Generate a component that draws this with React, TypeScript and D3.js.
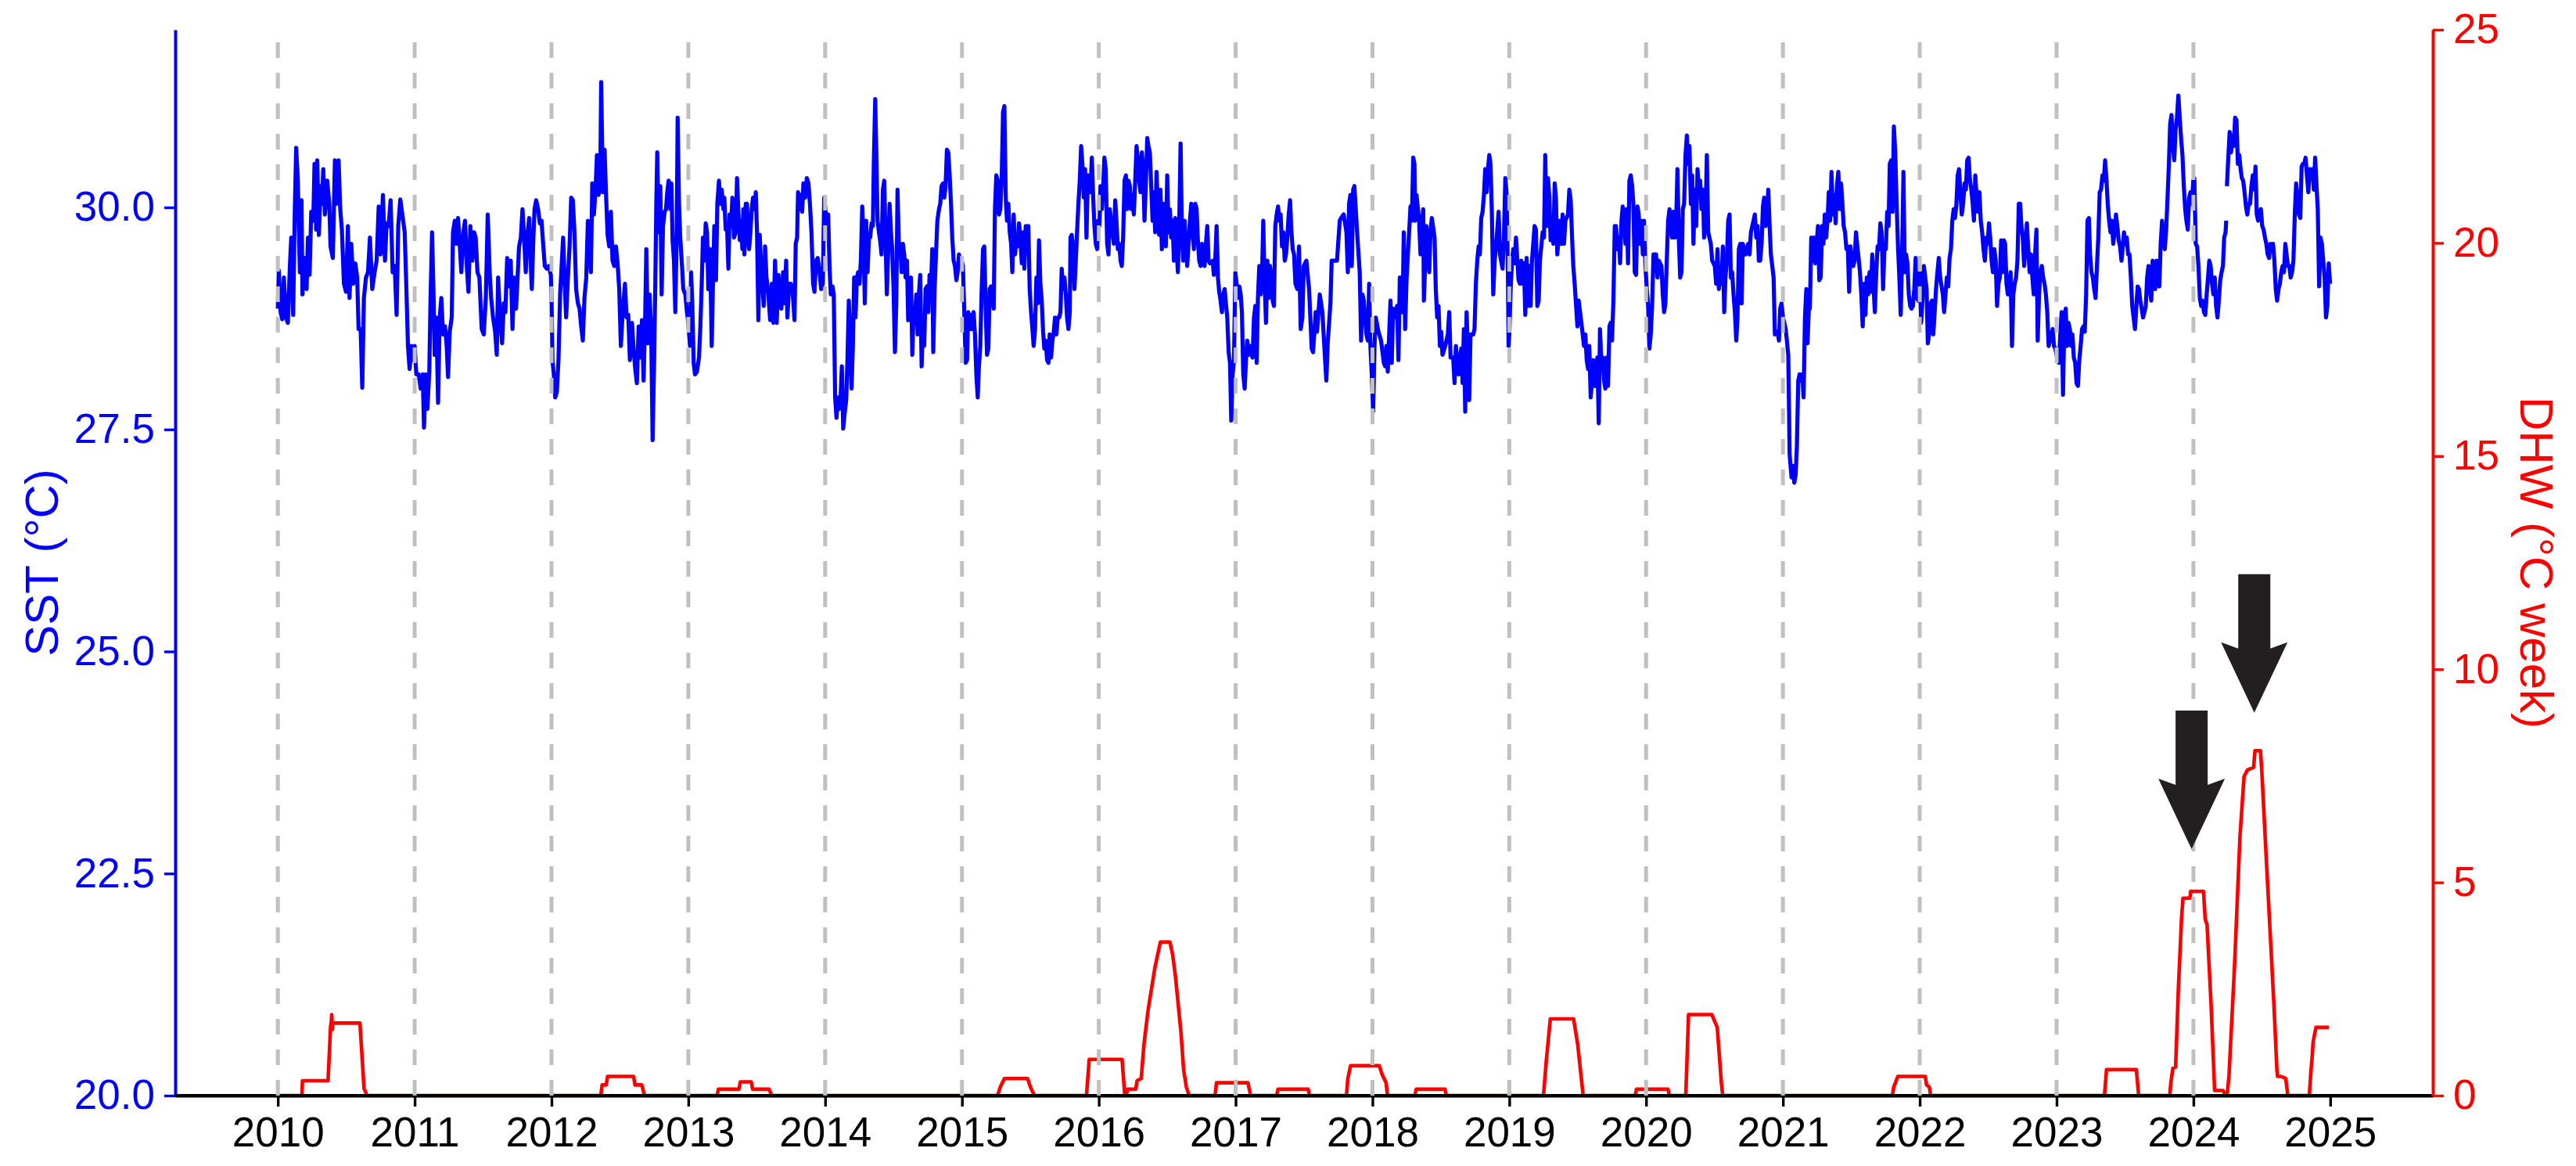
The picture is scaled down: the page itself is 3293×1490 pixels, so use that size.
import React, { useEffect, useRef } from "react";
import * as d3 from "d3";

// tick labels and reference lines
const xTickYears = [2010, 2011, 2012, 2013, 2014, 2015, 2016, 2017, 2018, 2019, 2020, 2021, 2022, 2023, 2024, 2025];
const gridYears = [2010, 2011, 2012, 2013, 2014, 2015, 2016, 2017, 2018, 2019, 2020, 2021, 2022, 2023, 2024];
const sstTicks = [20, 22.5, 25, 27.5, 30];
const dhwTicks = [0, 5, 10, 15, 20, 25];

// SST (°C): [fraction of year, value]
const sst2010 = [[0.000,28.86],[0.007,29.29],[0.020,28.82],[0.032,28.74],[0.044,29.21],[0.059,28.76],[0.073,28.70],[0.088,29.34],[0.098,29.66],[0.112,28.79],[0.124,29.98],[0.134,30.67],[0.146,30.30],[0.161,29.27],[0.173,30.08],[0.180,29.02],[0.195,29.43],[0.210,29.08],[0.220,29.66],[0.232,29.24],[0.244,29.95],[0.259,29.85],[0.268,30.49],[0.280,29.75],[0.288,30.53],[0.300,29.69],[0.312,30.24],[0.322,30.04],[0.332,30.43],[0.344,29.92],[0.361,30.30],[0.376,30.04],[0.385,29.56],[0.402,29.43],[0.417,30.53],[0.429,30.04],[0.444,30.53],[0.456,29.98],[0.468,29.75],[0.483,29.14],[0.498,29.05],[0.512,29.79],[0.524,28.98],[0.537,29.59],[0.551,29.14],[0.566,29.37],[0.580,29.21],[0.590,28.63],[0.605,28.63],[0.617,27.97],[0.629,28.98],[0.644,29.21],[0.659,29.27],[0.673,29.66],[0.690,29.08],[0.707,29.27],[0.722,29.40],[0.737,30.01],[0.751,29.47],[0.768,30.14],[0.783,29.40],[0.795,29.82],[0.810,29.79],[0.824,30.08],[0.839,29.27],[0.854,29.34],[0.868,28.79],[0.880,29.79],[0.895,30.09],[0.910,29.92],[0.927,29.72],[0.939,29.11],[0.951,28.44],[0.963,28.18],[0.976,28.44],[0.990,28.28]];
const sst2011 = [[0.000,28.44],[0.012,28.12],[0.029,28.12],[0.044,27.96],[0.059,28.12],[0.068,27.52],[0.080,28.12],[0.093,27.73],[0.107,28.15],[0.115,28.89],[0.127,29.72],[0.137,29.08],[0.146,28.34],[0.159,28.76],[0.171,27.80],[0.183,28.76],[0.195,28.98],[0.207,28.57],[0.222,28.66],[0.234,28.44],[0.244,28.09],[0.256,28.60],[0.271,28.76],[0.280,29.72],[0.293,29.85],[0.305,29.59],[0.317,29.88],[0.329,29.59],[0.341,29.27],[0.356,29.72],[0.368,29.85],[0.381,29.34],[0.393,29.05],[0.407,29.79],[0.422,29.40],[0.434,29.72],[0.446,29.66],[0.459,29.27],[0.473,29.21],[0.490,28.63],[0.505,28.57],[0.520,28.98],[0.534,29.92],[0.549,29.24],[0.559,28.98],[0.573,28.76],[0.588,28.60],[0.600,28.34],[0.610,29.21],[0.624,28.76],[0.639,28.47],[0.651,28.92],[0.663,28.82],[0.676,29.43],[0.688,29.11],[0.702,29.40],[0.715,28.63],[0.727,29.21],[0.741,28.86],[0.754,29.27],[0.763,29.56],[0.776,29.66],[0.788,29.98],[0.800,29.66],[0.812,29.27],[0.824,29.69],[0.837,29.88],[0.849,29.34],[0.856,29.08],[0.866,29.59],[0.876,29.98],[0.888,30.08],[0.902,29.98],[0.915,29.82],[0.927,29.85],[0.939,29.59],[0.951,29.34],[0.966,29.31],[0.980,29.34],[0.995,29.24]];
const sst2012 = [[0.000,29.02],[0.007,28.28],[0.017,28.12],[0.027,27.86],[0.039,27.92],[0.051,28.28],[0.063,29.02],[0.076,29.40],[0.085,29.66],[0.095,29.21],[0.107,28.76],[0.120,29.21],[0.132,29.56],[0.144,30.11],[0.156,30.08],[0.168,29.72],[0.180,29.08],[0.193,28.92],[0.205,28.86],[0.217,28.66],[0.229,28.50],[0.241,28.98],[0.254,29.21],[0.266,29.85],[0.276,29.66],[0.288,29.27],[0.298,30.27],[0.310,29.92],[0.322,30.20],[0.332,30.59],[0.344,30.14],[0.356,30.24],[0.363,31.41],[0.376,30.17],[0.388,30.65],[0.398,30.17],[0.410,29.69],[0.422,29.56],[0.434,29.95],[0.446,29.40],[0.459,29.34],[0.471,29.56],[0.483,29.37],[0.495,29.08],[0.507,28.44],[0.522,28.86],[0.537,29.14],[0.549,28.76],[0.561,28.79],[0.573,28.28],[0.588,28.70],[0.600,28.41],[0.612,28.18],[0.624,28.02],[0.637,28.66],[0.649,28.31],[0.661,28.73],[0.673,28.05],[0.685,28.79],[0.693,29.53],[0.705,28.47],[0.717,29.02],[0.729,28.57],[0.739,27.38],[0.749,28.18],[0.759,29.18],[0.766,30.04],[0.773,30.62],[0.783,29.72],[0.795,30.24],[0.805,29.02],[0.815,29.79],[0.827,29.95],[0.837,29.98],[0.846,30.17],[0.856,30.30],[0.868,29.98],[0.876,30.27],[0.885,29.63],[0.895,29.40],[0.905,28.82],[0.915,29.72],[0.922,31.01],[0.932,30.04],[0.941,29.66],[0.954,29.34],[0.963,29.08],[0.978,29.02],[0.990,28.82]];
const sst2013 = [[0.000,28.70],[0.012,28.44],[0.020,29.27],[0.029,28.92],[0.039,28.25],[0.049,28.12],[0.063,28.15],[0.078,28.31],[0.088,28.66],[0.098,29.14],[0.107,29.66],[0.117,29.40],[0.127,29.82],[0.137,29.72],[0.146,29.08],[0.159,29.53],[0.171,28.44],[0.180,29.14],[0.190,29.79],[0.202,29.18],[0.212,30.04],[0.224,30.30],[0.234,30.04],[0.244,30.20],[0.256,29.98],[0.263,30.11],[0.273,29.75],[0.283,29.79],[0.293,29.31],[0.302,29.92],[0.312,29.79],[0.322,30.11],[0.334,29.66],[0.346,29.72],[0.356,30.33],[0.366,29.95],[0.376,29.63],[0.385,29.85],[0.395,29.53],[0.402,29.98],[0.410,29.47],[0.420,30.04],[0.429,30.04],[0.437,29.66],[0.444,29.53],[0.454,29.72],[0.463,29.98],[0.473,30.11],[0.483,29.98],[0.493,30.17],[0.502,29.72],[0.512,28.73],[0.522,29.69],[0.532,29.34],[0.541,29.14],[0.551,28.89],[0.561,29.56],[0.571,29.21],[0.585,29.02],[0.598,28.73],[0.610,29.14],[0.622,28.70],[0.634,29.40],[0.646,28.70],[0.659,29.24],[0.671,28.89],[0.680,28.86],[0.693,29.27],[0.702,28.92],[0.715,29.40],[0.724,28.76],[0.737,29.14],[0.749,29.14],[0.761,29.08],[0.776,28.73],[0.785,29.59],[0.795,29.66],[0.802,30.17],[0.815,29.98],[0.824,30.14],[0.832,29.95],[0.841,30.27],[0.854,30.11],[0.866,30.33],[0.878,30.27],[0.890,30.01],[0.900,29.72],[0.912,29.14],[0.922,29.05],[0.934,29.40],[0.946,29.43],[0.959,29.27],[0.971,29.08],[0.983,29.14],[0.993,30.11]];
const sst2014 = [[0.002,29.98],[0.012,29.79],[0.022,29.92],[0.032,29.34],[0.041,29.02],[0.054,29.11],[0.063,29.02],[0.073,27.86],[0.083,27.63],[0.093,27.86],[0.102,27.73],[0.112,27.83],[0.122,28.21],[0.132,27.51],[0.144,27.70],[0.154,27.83],[0.163,28.28],[0.173,28.95],[0.183,28.44],[0.193,27.96],[0.202,28.41],[0.212,29.21],[0.222,28.76],[0.232,29.21],[0.241,29.27],[0.251,29.14],[0.261,29.40],[0.271,30.01],[0.280,29.66],[0.290,28.92],[0.300,29.85],[0.310,29.27],[0.320,29.66],[0.329,29.66],[0.339,29.82],[0.349,29.79],[0.356,30.53],[0.366,31.22],[0.373,30.69],[0.383,29.85],[0.393,29.72],[0.402,29.63],[0.412,29.47],[0.422,30.20],[0.432,30.30],[0.441,29.66],[0.451,29.02],[0.461,29.53],[0.471,30.04],[0.481,29.72],[0.490,29.53],[0.500,29.08],[0.510,28.37],[0.520,28.92],[0.529,30.20],[0.539,29.56],[0.549,29.59],[0.559,29.27],[0.568,29.59],[0.578,29.47],[0.588,29.21],[0.598,29.40],[0.607,28.73],[0.617,28.86],[0.627,29.21],[0.637,28.34],[0.646,28.82],[0.656,28.76],[0.666,29.02],[0.676,28.57],[0.685,29.02],[0.695,29.24],[0.705,28.21],[0.715,28.70],[0.724,28.44],[0.734,29.08],[0.744,29.11],[0.754,28.82],[0.763,29.24],[0.773,29.08],[0.783,29.53],[0.790,28.37],[0.800,29.08],[0.810,29.47],[0.820,29.85],[0.832,29.98],[0.841,30.04],[0.851,30.24],[0.861,30.27],[0.871,30.11],[0.880,30.24],[0.890,30.65],[0.900,30.62],[0.910,30.36],[0.920,30.04],[0.929,29.66],[0.939,29.40],[0.949,29.34],[0.959,29.18],[0.968,29.27],[0.978,29.47],[0.988,29.34],[0.998,29.40]];
const sst2015 = [[0.007,29.34],[0.017,28.82],[0.027,28.25],[0.037,28.28],[0.046,28.82],[0.056,28.63],[0.066,28.79],[0.076,28.63],[0.085,28.82],[0.095,28.57],[0.105,28.12],[0.115,27.86],[0.124,28.21],[0.134,28.44],[0.144,29.08],[0.154,29.53],[0.163,29.56],[0.173,28.89],[0.183,28.34],[0.193,28.41],[0.202,29.08],[0.212,29.11],[0.222,28.95],[0.232,28.86],[0.241,29.98],[0.251,30.36],[0.261,30.30],[0.271,29.92],[0.280,29.98],[0.290,30.30],[0.300,31.07],[0.310,31.14],[0.320,30.11],[0.329,29.85],[0.339,30.04],[0.349,29.72],[0.359,29.59],[0.368,29.27],[0.378,29.92],[0.388,29.47],[0.398,29.66],[0.407,29.56],[0.417,29.82],[0.427,29.66],[0.437,29.37],[0.446,29.72],[0.456,29.31],[0.466,29.79],[0.476,29.66],[0.485,29.79],[0.495,29.08],[0.505,28.82],[0.515,28.63],[0.524,28.44],[0.534,28.63],[0.544,29.21],[0.554,28.92],[0.563,29.63],[0.573,29.14],[0.583,28.95],[0.593,28.60],[0.602,28.41],[0.612,28.50],[0.622,28.28],[0.632,28.25],[0.641,28.57],[0.651,28.31],[0.661,28.50],[0.671,28.60],[0.680,28.76],[0.690,28.57],[0.700,28.76],[0.710,28.76],[0.720,28.82],[0.729,29.31],[0.739,29.08],[0.749,29.21],[0.759,29.02],[0.768,28.76],[0.778,28.63],[0.788,28.82],[0.793,29.66],[0.802,29.69],[0.812,29.56],[0.822,29.08],[0.832,29.40],[0.841,29.72],[0.851,30.04],[0.861,30.30],[0.871,30.69],[0.880,30.49],[0.890,30.11],[0.900,30.43],[0.910,29.66],[0.920,30.36],[0.929,30.30],[0.939,30.17],[0.949,30.56],[0.959,30.11],[0.968,29.79],[0.978,29.59],[0.988,29.53],[0.995,29.85]];
const sst2016 = [[0.005,29.79],[0.012,30.24],[0.022,29.98],[0.032,30.24],[0.041,30.56],[0.051,30.43],[0.061,29.59],[0.071,29.47],[0.080,29.98],[0.090,29.85],[0.100,29.72],[0.110,29.59],[0.120,30.08],[0.129,29.85],[0.139,29.53],[0.149,29.59],[0.159,29.40],[0.168,29.34],[0.178,29.66],[0.188,30.30],[0.198,30.36],[0.207,29.98],[0.217,30.30],[0.227,30.24],[0.237,29.98],[0.246,30.14],[0.256,29.92],[0.266,30.30],[0.276,30.69],[0.285,30.56],[0.295,30.30],[0.305,30.17],[0.315,30.62],[0.324,30.43],[0.334,29.85],[0.344,30.27],[0.354,30.78],[0.363,30.69],[0.373,30.62],[0.383,30.24],[0.393,29.85],[0.402,30.17],[0.412,29.72],[0.422,30.40],[0.432,29.98],[0.441,29.69],[0.451,30.20],[0.461,29.53],[0.471,30.04],[0.480,29.85],[0.490,29.56],[0.500,30.36],[0.510,29.72],[0.520,29.98],[0.529,29.66],[0.539,29.85],[0.549,29.40],[0.559,29.88],[0.568,29.56],[0.578,29.27],[0.588,29.85],[0.598,30.72],[0.607,29.72],[0.617,29.40],[0.627,29.85],[0.637,29.53],[0.646,29.34],[0.656,29.59],[0.666,29.85],[0.676,30.04],[0.685,29.72],[0.695,29.53],[0.705,30.04],[0.715,29.98],[0.724,29.63],[0.734,29.40],[0.744,29.34],[0.754,29.59],[0.763,29.40],[0.773,29.34],[0.783,29.59],[0.793,29.79],[0.802,29.40],[0.812,29.37],[0.822,29.37],[0.832,29.40],[0.841,29.24],[0.851,29.40],[0.861,29.79],[0.871,29.21],[0.880,29.05],[0.890,28.95],[0.900,28.82],[0.910,29.02],[0.920,29.08],[0.929,28.92],[0.939,28.76],[0.949,28.37],[0.959,28.25],[0.968,27.60],[0.978,28.12],[0.988,28.28],[0.998,29.27]];
const sst2017 = [[0.007,29.14],[0.017,28.98],[0.027,29.11],[0.037,29.02],[0.046,28.82],[0.056,28.12],[0.066,27.96],[0.076,28.28],[0.085,28.50],[0.095,28.34],[0.105,28.44],[0.115,28.34],[0.124,28.31],[0.134,28.76],[0.144,28.89],[0.154,28.25],[0.163,28.98],[0.173,29.34],[0.183,29.02],[0.193,29.24],[0.202,29.85],[0.212,29.14],[0.222,28.70],[0.232,29.40],[0.241,28.98],[0.251,29.34],[0.261,29.21],[0.271,28.95],[0.280,28.89],[0.290,29.79],[0.300,29.92],[0.310,30.01],[0.320,29.85],[0.329,29.92],[0.339,29.56],[0.349,29.72],[0.359,29.40],[0.368,29.47],[0.378,29.66],[0.388,29.92],[0.398,30.08],[0.407,29.75],[0.417,29.53],[0.427,29.47],[0.437,29.14],[0.451,29.08],[0.463,29.56],[0.476,28.63],[0.488,28.76],[0.498,29.34],[0.517,29.40],[0.537,29.08],[0.556,28.41],[0.566,28.37],[0.585,28.82],[0.595,28.60],[0.615,29.02],[0.634,28.82],[0.654,28.28],[0.663,28.05],[0.673,28.47],[0.693,28.92],[0.702,29.40],[0.722,29.40],[0.741,29.40],[0.761,29.85],[0.771,29.88],[0.790,29.92],[0.810,29.72],[0.820,29.27],[0.829,30.04],[0.839,30.14],[0.849,29.34],[0.859,30.20],[0.868,30.24],[0.888,29.72],[0.907,29.27],[0.917,28.50],[0.927,29.02],[0.937,28.95],[0.956,28.57],[0.966,28.50],[0.976,29.14],[0.985,28.44],[0.995,28.12]];
const sst2018 = [[0.005,27.70],[0.015,28.44],[0.024,28.76],[0.044,28.60],[0.063,28.50],[0.083,28.25],[0.093,28.21],[0.102,28.44],[0.112,28.15],[0.122,28.57],[0.132,28.95],[0.141,28.25],[0.151,28.86],[0.171,28.76],[0.180,28.89],[0.190,28.28],[0.200,29.21],[0.220,28.82],[0.229,29.72],[0.239,28.63],[0.249,29.18],[0.268,29.72],[0.278,30.01],[0.288,29.85],[0.298,30.56],[0.307,30.49],[0.312,29.85],[0.322,30.14],[0.341,29.85],[0.351,29.47],[0.361,29.79],[0.371,29.98],[0.376,28.95],[0.385,29.34],[0.395,29.79],[0.415,29.27],[0.424,29.72],[0.434,29.88],[0.454,29.66],[0.463,29.08],[0.473,28.76],[0.483,28.89],[0.493,28.44],[0.502,28.60],[0.512,28.34],[0.532,28.44],[0.551,28.57],[0.561,28.82],[0.571,28.31],[0.590,28.31],[0.600,28.02],[0.610,28.44],[0.629,28.12],[0.649,28.41],[0.659,28.02],[0.668,28.63],[0.678,27.70],[0.688,28.82],[0.698,28.37],[0.707,27.83],[0.717,28.57],[0.737,28.57],[0.746,28.63],[0.756,29.14],[0.766,29.40],[0.776,29.56],[0.785,29.47],[0.795,29.88],[0.805,29.95],[0.815,30.14],[0.824,30.43],[0.834,30.17],[0.844,30.43],[0.854,30.59],[0.863,30.49],[0.873,29.92],[0.883,29.02],[0.893,29.40],[0.902,29.53],[0.922,29.95],[0.932,29.47],[0.951,29.31],[0.961,29.66],[0.971,30.33],[0.980,30.17],[0.990,29.27],[0.995,28.44]];
const sst2019 = [[0.000,28.57],[0.010,29.08],[0.020,29.40],[0.029,29.53],[0.039,29.37],[0.049,29.66],[0.068,29.18],[0.078,29.14],[0.088,29.40],[0.098,29.14],[0.107,29.37],[0.117,28.79],[0.127,29.43],[0.137,28.89],[0.146,29.34],[0.156,28.89],[0.166,29.40],[0.185,29.79],[0.195,29.75],[0.205,28.89],[0.215,28.95],[0.224,29.40],[0.244,29.72],[0.254,29.66],[0.263,30.59],[0.273,29.79],[0.283,30.33],[0.293,30.11],[0.302,29.63],[0.312,29.85],[0.322,29.59],[0.332,30.27],[0.341,30.11],[0.351,29.47],[0.371,29.85],[0.380,29.59],[0.390,29.92],[0.400,29.59],[0.410,29.85],[0.429,29.92],[0.439,30.20],[0.449,30.08],[0.459,29.66],[0.468,29.34],[0.478,29.14],[0.498,28.66],[0.507,28.95],[0.527,28.70],[0.546,28.44],[0.556,28.57],[0.566,28.28],[0.576,28.18],[0.585,28.44],[0.595,27.86],[0.605,28.05],[0.615,28.28],[0.624,27.99],[0.634,28.12],[0.644,28.31],[0.654,27.57],[0.663,28.63],[0.673,28.25],[0.683,28.31],[0.693,28.05],[0.702,27.96],[0.712,28.31],[0.722,27.99],[0.732,28.66],[0.741,28.70],[0.751,28.50],[0.761,28.95],[0.771,29.79],[0.780,29.79],[0.790,29.53],[0.800,29.66],[0.810,29.37],[0.820,29.85],[0.829,30.01],[0.839,29.92],[0.849,29.59],[0.859,29.98],[0.868,29.37],[0.878,30.30],[0.888,30.36],[0.898,30.24],[0.907,30.04],[0.917,29.27],[0.927,29.24],[0.937,30.01],[0.946,29.92],[0.956,29.59],[0.966,29.85],[0.976,29.47],[0.985,29.85],[0.995,29.34]];
const sst2020 = [[0.005,29.08],[0.015,28.89],[0.024,28.41],[0.034,28.57],[0.044,28.89],[0.054,29.47],[0.073,29.47],[0.083,29.21],[0.093,29.40],[0.112,29.34],[0.122,29.02],[0.132,28.82],[0.141,28.92],[0.151,29.40],[0.161,29.85],[0.171,29.98],[0.180,29.79],[0.190,29.66],[0.200,29.95],[0.210,29.66],[0.220,29.85],[0.229,30.43],[0.239,29.66],[0.249,29.21],[0.259,29.27],[0.268,29.98],[0.278,30.04],[0.288,30.59],[0.298,30.81],[0.307,30.49],[0.317,30.69],[0.327,30.04],[0.337,30.36],[0.346,29.59],[0.356,30.20],[0.366,29.79],[0.376,30.43],[0.385,30.17],[0.395,30.30],[0.405,29.98],[0.415,30.20],[0.424,29.66],[0.434,29.85],[0.444,30.59],[0.454,29.72],[0.473,29.59],[0.483,29.40],[0.502,29.34],[0.512,29.14],[0.522,29.53],[0.532,29.08],[0.541,29.27],[0.551,29.14],[0.561,29.56],[0.571,28.82],[0.580,29.21],[0.590,29.40],[0.600,29.85],[0.610,29.92],[0.620,29.21],[0.629,29.27],[0.639,29.02],[0.649,28.82],[0.659,28.50],[0.668,28.76],[0.678,29.53],[0.688,29.59],[0.698,28.92],[0.707,29.59],[0.727,29.47],[0.746,29.59],[0.756,29.47],[0.766,29.72],[0.785,29.85],[0.795,29.92],[0.805,29.66],[0.815,29.79],[0.824,29.40],[0.834,29.40],[0.844,29.59],[0.854,30.01],[0.863,30.11],[0.873,29.79],[0.883,29.85],[0.893,30.20],[0.902,29.82],[0.912,29.47],[0.922,29.34],[0.932,29.21],[0.941,28.57],[0.961,28.60],[0.971,28.50],[0.980,28.86],[0.990,28.92]];
const sst2021 = [[0.000,28.76],[0.010,28.70],[0.020,28.63],[0.029,28.50],[0.039,28.34],[0.044,27.80],[0.049,27.22],[0.054,27.12],[0.063,26.96],[0.073,27.09],[0.083,26.90],[0.093,26.99],[0.102,27.31],[0.112,28.05],[0.122,28.12],[0.132,28.05],[0.141,28.12],[0.151,27.86],[0.161,28.76],[0.171,29.08],[0.180,28.47],[0.190,28.89],[0.197,28.86],[0.207,29.66],[0.216,29.40],[0.226,29.66],[0.236,29.37],[0.256,29.79],[0.266,29.18],[0.276,29.21],[0.286,29.79],[0.296,29.59],[0.306,29.92],[0.316,29.66],[0.326,29.85],[0.335,30.17],[0.345,29.85],[0.355,30.40],[0.365,29.92],[0.375,30.14],[0.385,29.82],[0.395,30.24],[0.405,30.40],[0.415,29.98],[0.425,30.27],[0.435,30.04],[0.444,29.79],[0.454,29.72],[0.464,29.53],[0.474,29.56],[0.484,29.05],[0.494,29.56],[0.504,29.40],[0.514,29.34],[0.524,29.40],[0.534,29.72],[0.544,29.56],[0.553,29.43],[0.563,29.27],[0.573,29.02],[0.583,28.66],[0.593,29.14],[0.603,28.79],[0.613,29.21],[0.623,29.02],[0.633,29.27],[0.643,29.05],[0.653,29.47],[0.663,29.08],[0.672,28.82],[0.682,29.27],[0.692,29.56],[0.702,29.53],[0.712,29.82],[0.722,29.72],[0.732,29.08],[0.742,29.56],[0.752,29.53],[0.762,29.95],[0.772,29.79],[0.781,30.49],[0.791,30.53],[0.801,29.95],[0.811,30.91],[0.821,30.62],[0.831,30.04],[0.841,29.56],[0.851,29.21],[0.861,28.79],[0.871,29.47],[0.881,30.40],[0.890,29.27],[0.900,29.47],[0.910,29.37],[0.920,29.02],[0.930,28.89],[0.940,28.86],[0.950,28.89],[0.960,29.08],[0.970,29.43],[0.980,28.98],[0.990,28.95]];
const sst2022 = [[0.000,29.27],[0.010,28.70],[0.020,28.95],[0.030,29.34],[0.040,29.21],[0.050,29.08],[0.059,28.47],[0.069,28.57],[0.079,28.92],[0.089,28.95],[0.099,28.57],[0.109,28.82],[0.119,29.08],[0.129,29.27],[0.139,29.43],[0.149,29.21],[0.169,29.02],[0.178,28.82],[0.188,29.02],[0.198,29.21],[0.208,29.11],[0.218,29.43],[0.228,29.53],[0.238,29.85],[0.248,29.98],[0.258,29.88],[0.268,30.04],[0.277,30.36],[0.287,30.43],[0.297,30.17],[0.307,29.92],[0.317,30.04],[0.327,30.27],[0.337,30.20],[0.347,30.53],[0.357,30.56],[0.367,30.30],[0.377,30.20],[0.387,30.04],[0.396,29.85],[0.406,30.36],[0.416,30.11],[0.426,29.95],[0.436,30.17],[0.446,29.85],[0.456,29.72],[0.466,29.53],[0.476,29.40],[0.486,29.66],[0.496,29.59],[0.506,29.82],[0.515,29.66],[0.525,29.40],[0.535,29.27],[0.545,29.53],[0.555,29.40],[0.565,28.89],[0.575,29.14],[0.585,29.21],[0.595,29.63],[0.605,29.27],[0.615,29.63],[0.624,29.59],[0.634,29.14],[0.644,29.02],[0.654,29.11],[0.664,29.27],[0.674,28.44],[0.684,29.02],[0.694,29.14],[0.704,29.21],[0.714,29.40],[0.724,30.04],[0.734,30.04],[0.743,29.79],[0.753,29.66],[0.763,29.34],[0.773,29.59],[0.783,29.82],[0.793,29.53],[0.803,29.27],[0.813,29.47],[0.823,29.21],[0.833,29.02],[0.843,29.47],[0.853,29.75],[0.862,28.50],[0.872,29.02],[0.882,29.27],[0.892,29.34],[0.902,29.21],[0.912,29.14],[0.922,29.02],[0.932,28.82],[0.942,28.44],[0.952,28.50],[0.962,28.57],[0.972,28.63],[0.981,28.44],[0.991,28.41]];
const sst2023 = [[0.007,28.28],[0.017,28.25],[0.027,28.57],[0.037,28.82],[0.047,27.89],[0.057,28.76],[0.067,28.86],[0.077,28.44],[0.087,28.70],[0.097,28.63],[0.107,28.44],[0.116,28.57],[0.126,28.31],[0.136,28.25],[0.146,28.02],[0.156,27.99],[0.166,28.28],[0.176,28.44],[0.186,28.63],[0.196,28.66],[0.206,28.60],[0.216,29.02],[0.226,29.85],[0.236,29.88],[0.245,29.47],[0.255,29.27],[0.265,29.21],[0.275,29.08],[0.285,28.98],[0.295,29.34],[0.305,29.66],[0.315,30.17],[0.325,30.20],[0.335,30.36],[0.345,30.30],[0.355,30.53],[0.365,30.30],[0.374,30.04],[0.384,29.85],[0.394,29.72],[0.404,29.85],[0.414,29.59],[0.424,29.72],[0.434,29.92],[0.444,29.79],[0.454,29.63],[0.464,29.56],[0.474,29.40],[0.483,29.53],[0.493,29.72],[0.503,29.59],[0.513,29.66],[0.523,29.47],[0.533,29.47],[0.543,29.21],[0.553,28.89],[0.563,28.76],[0.573,28.63],[0.583,28.89],[0.593,29.11],[0.602,29.08],[0.612,28.95],[0.622,28.86],[0.632,28.76],[0.642,28.82],[0.652,28.89],[0.662,29.21],[0.672,29.34],[0.682,29.08],[0.692,28.95],[0.702,29.40],[0.711,29.34],[0.721,29.08],[0.731,29.40],[0.741,29.14],[0.751,29.11],[0.761,29.59],[0.771,29.85],[0.781,29.66],[0.791,29.53],[0.801,29.75],[0.811,30.11],[0.821,30.49],[0.830,30.94],[0.840,31.04],[0.850,30.69],[0.860,30.53],[0.870,30.88],[0.880,31.01],[0.890,31.26],[0.900,31.01],[0.910,30.78],[0.920,30.59],[0.930,30.24],[0.940,29.98],[0.949,29.85],[0.959,29.75],[0.969,30.11],[0.979,30.17],[0.989,30.04],[0.999,30.30]];
// the record has a short gap early in 2024 (null breaks the line)
const sst2024 = [[0.007,30.33],[0.017,29.59],[0.027,29.56],[0.037,29.34],[0.047,28.98],[0.057,28.89],[0.067,28.95],[0.077,28.82],[0.087,28.79],[0.097,29.02],[0.107,29.21],[0.116,29.40],[0.126,29.34],[0.136,29.14],[0.146,29.02],[0.156,29.21],[0.166,28.89],[0.176,28.76],[0.186,28.95],[0.196,29.18],[0.206,29.27],[0.216,29.34],[0.225,29.66],[0.235,29.72],[0.240,29.85],[0.242,null],[0.245,30.24],[0.255,30.56],[0.265,30.85],[0.275,30.62],[0.285,30.81],[0.295,30.69],[0.305,31.01],[0.315,30.98],[0.325,30.49],[0.335,30.59],[0.345,30.43],[0.354,30.33],[0.364,30.30],[0.374,30.17],[0.384,30.01],[0.394,29.92],[0.404,30.04],[0.414,30.04],[0.424,30.24],[0.434,30.36],[0.444,30.20],[0.454,30.46],[0.463,29.92],[0.473,29.85],[0.483,29.92],[0.493,29.98],[0.503,29.79],[0.513,29.75],[0.523,29.66],[0.533,29.59],[0.543,29.47],[0.553,29.43],[0.563,29.59],[0.572,29.53],[0.582,29.59],[0.592,29.40],[0.602,29.08],[0.612,28.95],[0.622,29.08],[0.632,29.14],[0.642,29.27],[0.652,29.34],[0.662,29.27],[0.672,29.59],[0.681,29.47],[0.691,29.34],[0.701,29.34],[0.711,29.21],[0.721,29.27],[0.731,29.40],[0.741,29.92],[0.751,30.27],[0.761,30.11],[0.771,29.92],[0.781,29.88],[0.791,30.46],[0.800,30.49],[0.810,30.49],[0.820,30.56],[0.830,30.36],[0.840,30.17],[0.850,30.43],[0.860,30.36],[0.870,30.43],[0.880,30.20],[0.890,30.56],[0.900,30.24],[0.909,29.98],[0.919,29.11],[0.929,29.66],[0.939,29.59],[0.949,29.40],[0.959,29.21],[0.969,28.76],[0.979,28.89],[0.989,29.37],[0.999,29.14]];

const sstByYear = [
  [2010, sst2010], [2011, sst2011], [2012, sst2012], [2013, sst2013], [2014, sst2014],
  [2015, sst2015], [2016, sst2016], [2017, sst2017], [2018, sst2018], [2019, sst2019],
  [2020, sst2020], [2021, sst2021], [2022, sst2022], [2023, sst2023], [2024, sst2024],
];

// DHW (°C week): [decimal year, value] for each heat-stress episode
const dhw2010 = [[2010.0,0],[2010.176,0],[2010.18,0.35],[2010.367,0.35],[2010.385,1.6],[2010.39,1.72],[2010.394,1.9],[2010.398,1.55],[2010.402,1.7],[2010.60,1.7],[2010.63,0.16],[2010.64,0.1],[2010.648,0]];
const dhw2012 = [[2012.36,0],[2012.37,0.25],[2012.40,0.25],[2012.41,0.45],[2012.60,0.45],[2012.61,0.25],[2012.66,0.25],[2012.68,0]];
const dhw2013 = [[2013.21,0],[2013.22,0.15],[2013.37,0.15],[2013.38,0.32],[2013.46,0.32],[2013.47,0.15],[2013.59,0.15],[2013.61,0]];
const dhw2015 = [[2015.26,0],[2015.28,0.2],[2015.31,0.4],[2015.48,0.4],[2015.50,0.2],[2015.53,0]];
const dhw2016 = [[2015.91,0],[2015.93,0.85],[2016.17,0.85],[2016.19,0],[2016.20,0],[2016.21,0.15],[2016.27,0.15],[2016.28,0.35],[2016.31,0.4],[2016.33,1.2],[2016.36,2.0],[2016.39,2.6],[2016.41,3.0],[2016.43,3.3],[2016.45,3.6],[2016.52,3.6],[2016.54,3.3],[2016.56,2.8],[2016.60,1.5],[2016.62,0.6],[2016.64,0.2],[2016.66,0]];
const dhw2017 = [[2016.85,0],[2016.86,0.3],[2017.09,0.3],[2017.11,0],[2017.30,0],[2017.31,0.15],[2017.53,0.15],[2017.54,0],[2017.81,0],[2017.82,0.4],[2017.84,0.7],[2018.05,0.7],[2018.07,0.5],[2018.10,0.3],[2018.11,0]];
const dhw2018 = [[2018.31,0],[2018.32,0.15],[2018.53,0.15],[2018.54,0]];
const dhw2019 = [[2019.25,0],[2019.27,0.8],[2019.30,1.8],[2019.47,1.8],[2019.50,1.2],[2019.53,0.3],[2019.54,0]];
const dhw2020 = [[2019.92,0],[2019.93,0.15],[2020.16,0.15],[2020.17,0],[2020.29,0],[2020.31,1.9],[2020.48,1.9],[2020.50,1.75],[2020.52,1.6],[2020.55,0.3],[2020.56,0]];
const dhw2022 = [[2021.80,0],[2021.81,0.2],[2021.84,0.45],[2022.04,0.45],[2022.05,0.25],[2022.07,0.2],[2022.08,0]];
const dhw2023 = [[2023.35,0],[2023.365,0.61],[2023.583,0.61],[2023.60,0]];
const dhw2024 = [[2023.827,0],[2023.835,0.3],[2023.85,0.64],[2023.87,0.67],[2023.89,2.5],[2023.914,4.2],[2023.924,4.63],[2023.975,4.63],[2023.98,4.79],[2024.074,4.79],[2024.086,4.14],[2024.10,4.0],[2024.129,2.15],[2024.155,0.12],[2024.216,0.12],[2024.237,0],[2024.248,0.06],[2024.26,0.46],[2024.30,3.0],[2024.34,6.06],[2024.37,7.48],[2024.395,7.64],[2024.44,7.7],[2024.45,8.09],[2024.49,8.09],[2024.50,7.6],[2024.54,5.1],[2024.59,2.04],[2024.61,0.61],[2024.615,0.45],[2024.64,0.45],[2024.675,0.4],[2024.69,0],[2024.847,0],[2024.86,0.61],[2024.87,1.0],[2024.875,1.26],[2024.896,1.6],[2024.99,1.6]];

const dhwEpisodes = [dhw2010, dhw2012, dhw2013, dhw2015, dhw2016, dhw2017, dhw2018, dhw2019, dhw2020, dhw2022, dhw2023, dhw2024];

// annotation arrows (tip position in data units)
const arrowTips = [
  { year: 2023.987, dhw: 5.78 },
  { year: 2024.445, dhw: 8.98 },
];

const FONT = "'Liberation Sans', Arial, Helvetica, sans-serif";

export default function App({
  width = 3293,
  height = 1490,
  marginTop = 38,
  marginRight = 183,
  marginBottom = 90,
  marginLeft = 224,
}) {
  const svgRef = useRef(null);

  useEffect(() => {
    const svg = d3.select(svgRef.current);
    svg.selectAll("*").remove();

    const x = d3.scaleLinear().domain([2009.25, 2025.75]).range([marginLeft, width - marginRight]);
    const ySst = d3.scaleLinear().domain([20, 32]).range([height - marginBottom, marginTop]);
    const yDhw = d3.scaleLinear().domain([0, 25]).range([height - marginBottom, marginTop]);

    const sstSeries = sstByYear.flatMap(([yr, pts]) =>
      (pts as number[][]).map(([t, v]) => ({ date: (yr as number) + t, value: v }))
    );
    const dhwSeries = dhwEpisodes.flat().map(([t, v]) => ({ date: t, value: v }));

    // SST line
    const sstLine = d3.line()
      .defined((d) => d.value != null)
      .x((d) => x(d.date))
      .y((d) => ySst(d.value));
    svg.append("path")
      .datum(sstSeries)
      .attr("fill", "none")
      .attr("stroke", "#0000ff")
      .attr("stroke-width", 5.2)
      .attr("stroke-linejoin", "round")
      .attr("d", sstLine);

    // DHW line
    const dhwLine = d3.line()
      .x((d) => x(d.date))
      .y((d) => yDhw(d.value));
    svg.append("path")
      .datum(dhwSeries)
      .attr("fill", "none")
      .attr("stroke", "#ff0000")
      .attr("stroke-width", 4.6)
      .attr("stroke-linejoin", "round")
      .attr("d", dhwLine);

    const y0 = height - marginBottom;

    // bottom axis
    const gx = svg.append("g")
      .attr("transform", `translate(0,${y0})`)
      .style("color", "#000")
      .call(d3.axisBottom(x).tickValues(xTickYears).tickFormat(d3.format("d")).tickSizeInner(14).tickSizeOuter(0).tickPadding(13));
    gx.select(".domain").attr("stroke-width", 4);
    gx.selectAll(".tick line").attr("stroke-width", 3.4);
    gx.selectAll(".tick text").attr("font-size", 53).attr("font-family", FONT);

    // left axis (SST)
    const gl = svg.append("g")
      .attr("transform", `translate(${marginLeft},0)`)
      .style("color", "#0000ff")
      .call(d3.axisLeft(ySst).tickValues(sstTicks).tickFormat(d3.format(".1f")).tickSizeInner(14).tickSizeOuter(0).tickPadding(12));
    gl.select(".domain").attr("stroke-width", 4);
    gl.selectAll(".tick line").attr("stroke-width", 3.4);
    gl.selectAll(".tick text").attr("font-size", 53).attr("font-family", FONT);

    // right axis (DHW)
    const gr = svg.append("g")
      .attr("transform", `translate(${width - marginRight},0)`)
      .style("color", "#ff0000")
      .call(d3.axisRight(yDhw).tickValues(dhwTicks).tickFormat(d3.format("d")).tickSizeInner(14).tickSizeOuter(0).tickPadding(12));
    gr.select(".domain").attr("stroke-width", 4);
    gr.selectAll(".tick line").attr("stroke-width", 3.4);
    gr.selectAll(".tick text").attr("font-size", 53).attr("font-family", FONT);

    // bottom spine sits over the lower end of the coloured spines
    svg.append("line")
      .attr("x1", marginLeft).attr("x2", width - marginRight - 2)
      .attr("y1", y0).attr("y2", y0)
      .attr("stroke", "#000").attr("stroke-width", 4);

    // axis titles
    svg.append("text")
      .attr("transform", `translate(74,${(marginTop + y0) / 2}) rotate(-90)`)
      .attr("text-anchor", "middle")
      .attr("fill", "#0000ff")
      .attr("font-size", 60)
      .attr("font-family", FONT)
      .text("SST (°C)");
    svg.append("text")
      .attr("transform", `translate(3222,${(marginTop + y0) / 2}) rotate(90)`)
      .attr("text-anchor", "middle")
      .attr("fill", "#ff0000")
      .attr("font-size", 60)
      .attr("font-family", FONT)
      .text("DHW (°C week)");

    // dashed year lines
    svg.append("g")
      .selectAll("line")
      .data(gridYears)
      .join("line")
      .attr("x1", (d) => x(d))
      .attr("x2", (d) => x(d))
      .attr("y1", y0)
      .attr("y2", marginTop)
      .attr("stroke", "#c0c0c0")
      .attr("stroke-width", 5)
      .attr("stroke-dasharray", "20,19");

    // arrows
    const shaftHalf = 20.5, headHalf = 42.5, total = 177, headLen = 90, joinLen = 82;
    svg.append("g")
      .selectAll("path")
      .data(arrowTips)
      .join("path")
      .attr("fill", "#231f20")
      .attr("d", (d) => {
        const tx = x(d.year), ty = yDhw(d.dhw);
        return d3.line()([
          [tx - shaftHalf, ty - total],
          [tx + shaftHalf, ty - total],
          [tx + shaftHalf, ty - joinLen],
          [tx + headHalf, ty - headLen],
          [tx, ty],
          [tx - headHalf, ty - headLen],
          [tx - shaftHalf, ty - joinLen],
        ]) + "Z";
      });
  }, [width, height, marginTop, marginRight, marginBottom, marginLeft]);

  return (
    <svg
      ref={svgRef}
      width={width}
      height={height}
      style={{ position: "absolute", left: 0, top: 0, display: "block", background: "#fff" }}
    />
  );
}
